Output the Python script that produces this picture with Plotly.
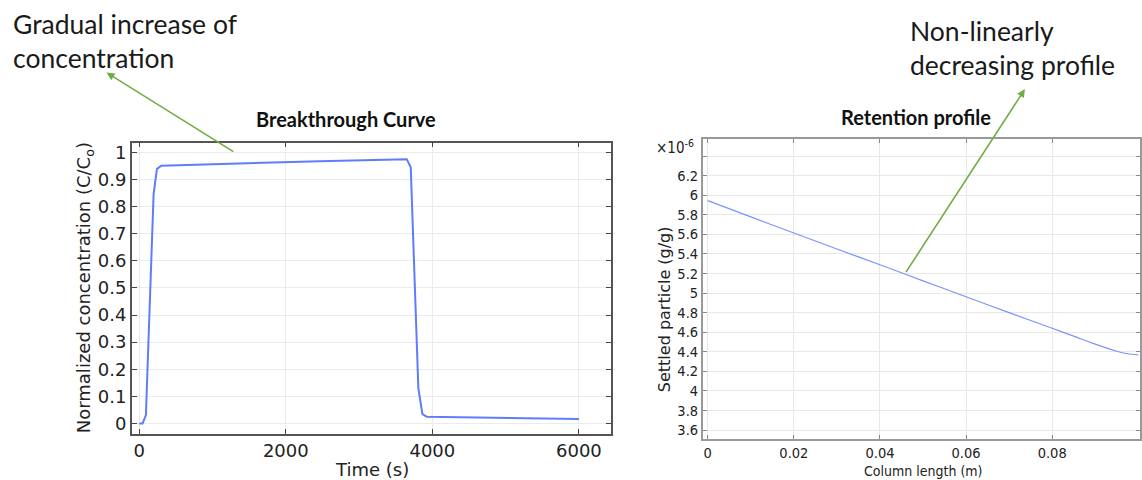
import plotly.graph_objects as go

# ---- data ----
time_s = [0, 46, 91, 196, 242, 301, 2457, 3650, 3705, 3809, 3864, 3923, 6000]
conc = [0, 0, 0.031, 0.847, 0.939, 0.951, 0.967, 0.975, 0.945, 0.129, 0.034, 0.025, 0.016]

length_m = [0, 0.01, 0.02, 0.03, 0.04, 0.05, 0.06, 0.07, 0.08, 0.085, 0.09, 0.095, 0.0975, 0.1]
settled_e6 = [5.945, 5.778, 5.614, 5.45, 5.289, 5.125, 4.962, 4.80, 4.640, 4.56, 4.478, 4.405, 4.38, 4.368]

x1_ticks = [0, 2000, 4000, 6000]
x1_labels = ["0", "2000", "4000", "6000"]
y1_ticks = [0, 0.1, 0.2, 0.3, 0.4, 0.5, 0.6, 0.7, 0.8, 0.9, 1.0]
y1_labels = ["0", "0.1", "0.2", "0.3", "0.4", "0.5", "0.6", "0.7", "0.8", "0.9", "1"]
x2_ticks = [0, 0.02, 0.04, 0.06, 0.08]
x2_labels = ["0", "0.02", "0.04", "0.06", "0.08"]
y2_ticks_e6 = [3.6, 3.8, 4.0, 4.2, 4.4, 4.6, 4.8, 5.0, 5.2, 5.4, 5.6, 5.8, 6.0, 6.2, 6.4]
y2_labels = ["3.6", "3.8", "4", "4.2", "4.4", "4.6", "4.8", "5", "5.2", "5.4", "5.6", "5.8", "6", "6.2", ""]

W, H = 1142, 480
def px(x):
    return x / W
def py(y):
    return 1 - y / H

fig = go.Figure()
fig.add_trace(go.Scatter(x=time_s, y=conc, mode="lines",
                         line=dict(color="#5f7cff", width=2), xaxis="x", yaxis="y",
                         hoverinfo="skip"))
fig.add_trace(go.Scatter(x=length_m, y=[v * 1e-6 for v in settled_e6], mode="lines",
                         line=dict(color="#7b93ff", width=1.2, shape="spline", smoothing=0.8),
                         xaxis="x2", yaxis="y2", hoverinfo="skip"))

tick_font_l = dict(family="DejaVu Sans", size=18, color="#222")
tick_font_r = dict(family="DejaVu Sans Condensed, DejaVu Sans", size=14.5, color="#222")

common = dict(showline=True, mirror="ticks", ticks="inside", showgrid=True, zeroline=False)

fig.update_layout(
    width=W, height=H,
    margin=dict(l=0, r=0, t=0, b=0),
    paper_bgcolor="white", plot_bgcolor="white",
    showlegend=False,
    xaxis=dict(domain=[px(132), px(612)], range=[-102, 6437], anchor="y",
               tickvals=x1_ticks, ticktext=x1_labels, tickfont=tick_font_l,
               linecolor="#555", linewidth=1.5, tickcolor="#444", ticklen=5,
               gridcolor="#ebebeb", **common),
    yaxis=dict(domain=[py(434), py(142)], range=[-0.0394, 1.0357], anchor="x",
               tickvals=y1_ticks, ticktext=y1_labels, tickfont=tick_font_l,
               linecolor="#555", linewidth=1.5, tickcolor="#444", ticklen=5,
               gridcolor="#ebebeb", **common),
    xaxis2=dict(domain=[px(704), 1.0], range=[-0.00116, 0.1004], anchor="y2",
                tickvals=x2_ticks, ticktext=x2_labels, tickfont=tick_font_r,
                linecolor="#999", linewidth=1.5, tickcolor="#888", ticklen=4,
                gridcolor="#e8e8e8", **common),
    yaxis2=dict(domain=[py(438.5), py(138.3)], range=[3.513e-6, 6.574e-6], anchor="x2",
                tickvals=[v * 1e-6 for v in y2_ticks_e6], ticktext=y2_labels, tickfont=tick_font_r,
                linecolor="#999", linewidth=1.5, tickcolor="#888", ticklen=4,
                gridcolor="#e8e8e8", **common),
)

txt = dict(family="Lato, Carlito, sans-serif", size=26.5, color="#1a1a1a")
ann = []
ann.append(dict(text="Gradual increase of", x=px(11), y=py(23), xanchor="left", yanchor="middle", font=txt))
ann.append(dict(text="concentration", x=px(11), y=py(57), xanchor="left", yanchor="middle", font=txt))
ann.append(dict(text="Non-linearly", x=px(910), y=py(30), xanchor="left", yanchor="middle", font=txt))
ann.append(dict(text="decreasing profile", x=px(910), y=py(64), xanchor="left", yanchor="middle", font=txt))

ttl = dict(family="Lato, Carlito, sans-serif", size=20, color="#111")
ann.append(dict(text="<b>Breakthrough Curve</b>", x=px(347), y=py(118), xanchor="center", yanchor="middle", font=ttl))
ann.append(dict(text="<b>Retention profile</b>", x=px(918), y=py(116), xanchor="center", yanchor="middle", font=ttl))

ann.append(dict(text="Normalized concentration (C/C<sub>o</sub>)", x=px(86), y=py(287), textangle=-90,
                xanchor="center", yanchor="middle", font=dict(family="DejaVu Sans", size=18, color="#222")))
ann.append(dict(text="Time (s)", x=px(373), y=py(469), xanchor="center", yanchor="middle",
                font=dict(family="DejaVu Sans", size=18, color="#222")))
ann.append(dict(text="Settled particle (g/g)", x=px(666), y=py(309), textangle=-90,
                xanchor="center", yanchor="middle", font=dict(family="DejaVu Sans", size=16, color="#222")))
ann.append(dict(text="Column length (m)", x=px(925), y=py(471), xanchor="center", yanchor="middle",
                font=dict(family="DejaVu Sans Condensed, DejaVu Sans", size=14, color="#222")))
ann.append(dict(text="×10<sup>-6</sup>", x=px(655), y=py(146), xanchor="left", yanchor="middle",
                font=dict(family="DejaVu Sans Condensed, DejaVu Sans", size=15, color="#222")))

arrow = dict(text="", showarrow=True, arrowhead=2, arrowsize=1, arrowwidth=1.6,
             arrowcolor="#70ad47", standoff=0, startstandoff=0)
ann.append(dict(x=px(106.7), y=py(71.7), ax=128.3, ay=80, **arrow))
ann.append(dict(x=px(1026.7), y=py(88.3), ax=-119.9, ay=184.5, **arrow))

for a in ann:
    a.setdefault("xref", "paper")
    a.setdefault("yref", "paper")
    a.setdefault("showarrow", False)
fig.update_layout(annotations=ann)

fig.write_html("out.html")
